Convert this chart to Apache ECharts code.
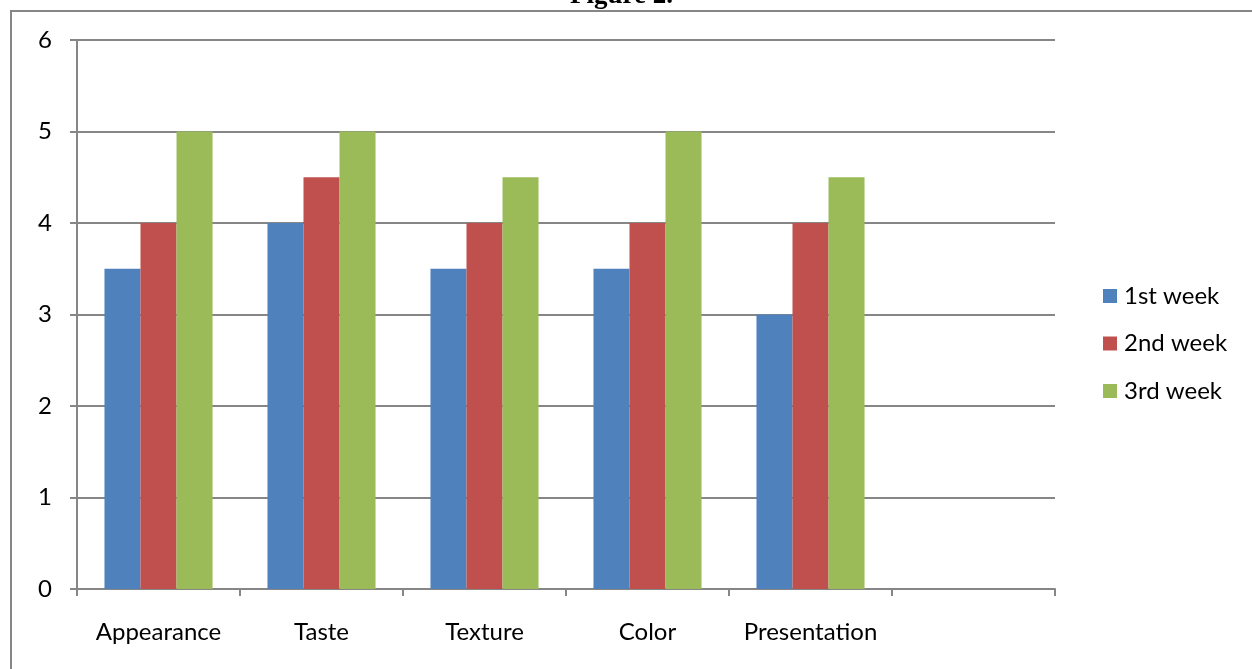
<!DOCTYPE html>
<html>
<head>
<meta charset="utf-8">
<style>
  html, body { margin: 0; padding: 0; background: #fff; }
  #chart { width: 1252px; height: 669px; }
</style>
<script src="https://cdn.jsdelivr.net/npm/echarts@6/dist/echarts.min.js"></script>
</head>
<body>
<div id="chart"></div>
<script>
// Sensory scores per attribute over three weeks
const categories = ['Appearance', 'Taste', 'Texture', 'Color', 'Presentation', ''];
const week1 = [3.5, 4, 3.5, 3.5, 3, null];
const week2 = [4, 4.5, 4, 4, 4, null];
const week3 = [5, 5, 4.5, 5, 4.5, null];
const seriesNames = ['1st week', '2nd week', '3rd week'];
const yTicks = { min: 0, max: 6, interval: 1 };

const colors = ['#4F81BD', '#C0504D', '#9BBB59'];
const axisGray = '#868686';
const font = 'Lato, "Open Sans", sans-serif';

const chart = echarts.init(document.getElementById('chart'), null, { renderer: 'canvas' });

const mkSeries = (name, data, color) => ({
  name, type: 'bar', data,
  barGap: '0%', barCategoryGap: '33.7%',
  itemStyle: { color },
  emphasis: { disabled: true }
});

chart.setOption({
  animation: false,
  color: colors,
  grid: { left: 77, top: 40, right: 197, bottom: 80, containLabel: false },
  legend: {
    orient: 'vertical',
    left: 1098, top: 279,
    itemWidth: 14, itemHeight: 14, itemGap: 23.5,
    icon: 'rect',
    textStyle: { fontFamily: font, fontSize: 24, lineHeight: 24, color: '#000', padding: [0, 0, 0, 2] },
    data: seriesNames
  },
  xAxis: {
    type: 'category',
    data: categories,
    axisLine: { lineStyle: { color: axisGray, width: 2 } },
    axisTick: { show: true, length: 7, lineStyle: { color: axisGray, width: 2 } },
    axisLabel: { fontFamily: font, fontSize: 24, color: '#000', margin: 31, interval: 0 }
  },
  yAxis: {
    type: 'value',
    min: yTicks.min, max: yTicks.max, interval: yTicks.interval,
    axisLine: { show: true, lineStyle: { color: axisGray, width: 2 } },
    axisTick: { show: true, length: 7, lineStyle: { color: axisGray, width: 2 } },
    splitLine: { lineStyle: { color: axisGray, width: 2 } },
    axisLabel: { fontFamily: font, fontSize: 24, color: '#000', margin: 25 }
  },
  graphic: [
    {
      type: 'polyline', silent: true,
      shape: { points: [[11, 680], [11, 11], [1260, 11]] },
      style: { stroke: axisGray, lineWidth: 2, fill: null }
    },
    {
      type: 'text', silent: true, left: 570, top: -17,
      style: { text: 'Figure 2.', font: 'bold 27px "Liberation Serif", "Times New Roman", serif', fill: '#000' }
    }
  ],
  series: [
    mkSeries(seriesNames[0], week1, colors[0]),
    mkSeries(seriesNames[1], week2, colors[1]),
    mkSeries(seriesNames[2], week3, colors[2])
  ]
});
</script>
</body>
</html>
